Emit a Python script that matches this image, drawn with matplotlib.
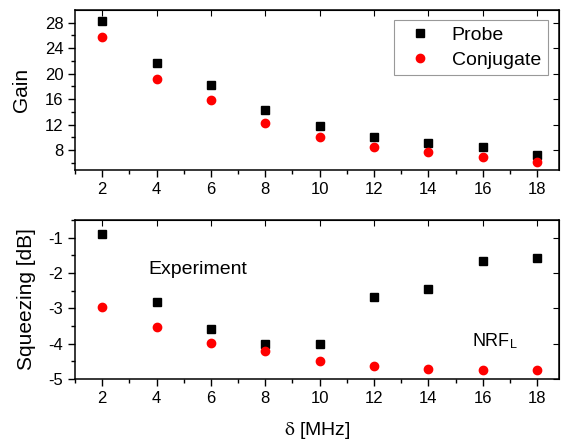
import matplotlib.pyplot as plt

plt.rcParams['font.family'] = ['Liberation Sans', 'DejaVu Sans']
plt.rcParams['axes.unicode_minus'] = False
plt.rcParams['mathtext.fontset'] = 'stix'

delta = [2, 4, 6, 8, 10, 12, 14, 16, 18]
gain_probe = [28.3, 21.6, 18.2, 14.25, 11.8, 10.0, 9.2, 8.5, 7.3]
gain_conj = [25.7, 19.1, 15.9, 12.3, 10.1, 8.5, 7.7, 7.0, 6.1]
sq_probe = [-0.91, -2.81, -3.59, -4.0, -4.01, -2.69, -2.45, -1.67, -1.57]
sq_conj = [-2.95, -3.53, -3.98, -4.21, -4.49, -4.64, -4.70, -4.75, -4.75]
xticks = [2, 4, 6, 8, 10, 12, 14, 16, 18]


def style(ax, yticks, yminor):
    ax.set_xlim(1, 18.8)
    ax.set_xticks(xticks)
    ax.set_xticks(range(1, 19, 2), minor=True)
    ax.set_yticks(yticks)
    ax.set_yticks(yminor, minor=True)
    ax.tick_params(which='both', direction='out', labelsize=12, width=1)
    ax.tick_params(which='major', length=5)
    ax.tick_params(which='minor', length=3)
    for s in ax.spines.values():
        s.set_linewidth(1.1)
    # mirrored inward ticks on top and right
    top = ax.secondary_xaxis('top')
    top.set_xticks(xticks)
    top.tick_params(direction='in', length=4, labeltop=False)
    right = ax.secondary_yaxis('right')
    right.set_yticks(yticks)
    right.tick_params(direction='in', length=4, labelright=False)


fig = plt.figure(figsize=(5.69, 4.45), dpi=100)
ax1 = fig.add_axes([0.132, 0.618, 0.850, 0.360])
ax2 = fig.add_axes([0.132, 0.148, 0.850, 0.358])

ax1.plot(delta, gain_probe, 's', color='black', ms=5.2, label='Probe')
ax1.plot(delta, gain_conj, 'o', color='red', ms=6, label='Conjugate')
ax1.set_ylim(4.9, 30)
style(ax1, [8, 12, 16, 20, 24, 28], range(6, 30, 2))
ax1.set_ylabel('Gain', fontsize=15, labelpad=10)
leg = ax1.legend(loc='upper right', fontsize=14, frameon=True, fancybox=False,
                 edgecolor='gray', handletextpad=0.6, borderpad=0.35,
                 labelspacing=0.35, borderaxespad=0,
                 bbox_to_anchor=(0.977, 0.9375))
leg.get_frame().set_linewidth(0.8)

ax2.plot(delta, sq_probe, 's', color='black', ms=5.2)
ax2.plot(delta, sq_conj, 'o', color='red', ms=6)
ax2.set_ylim(-5, -0.5)
style(ax2, [-5, -4, -3, -2, -1], [-4.5, -3.5, -2.5, -1.5, -0.5])
ax2.set_ylabel('Squeezing [dB]', fontsize=15, labelpad=9)
ax2.set_xlabel('$\\mathrm{\\delta}$ [MHz]', fontsize=14, labelpad=10)
ax2.text(5.5, -1.89, 'Experiment', fontsize=14, ha='center', va='center')
ax2.text(15.6, -3.92, 'NRF$_\\mathregular{L}$', fontsize=13, ha='left', va='center')

fig.savefig('out.png', dpi=100)
